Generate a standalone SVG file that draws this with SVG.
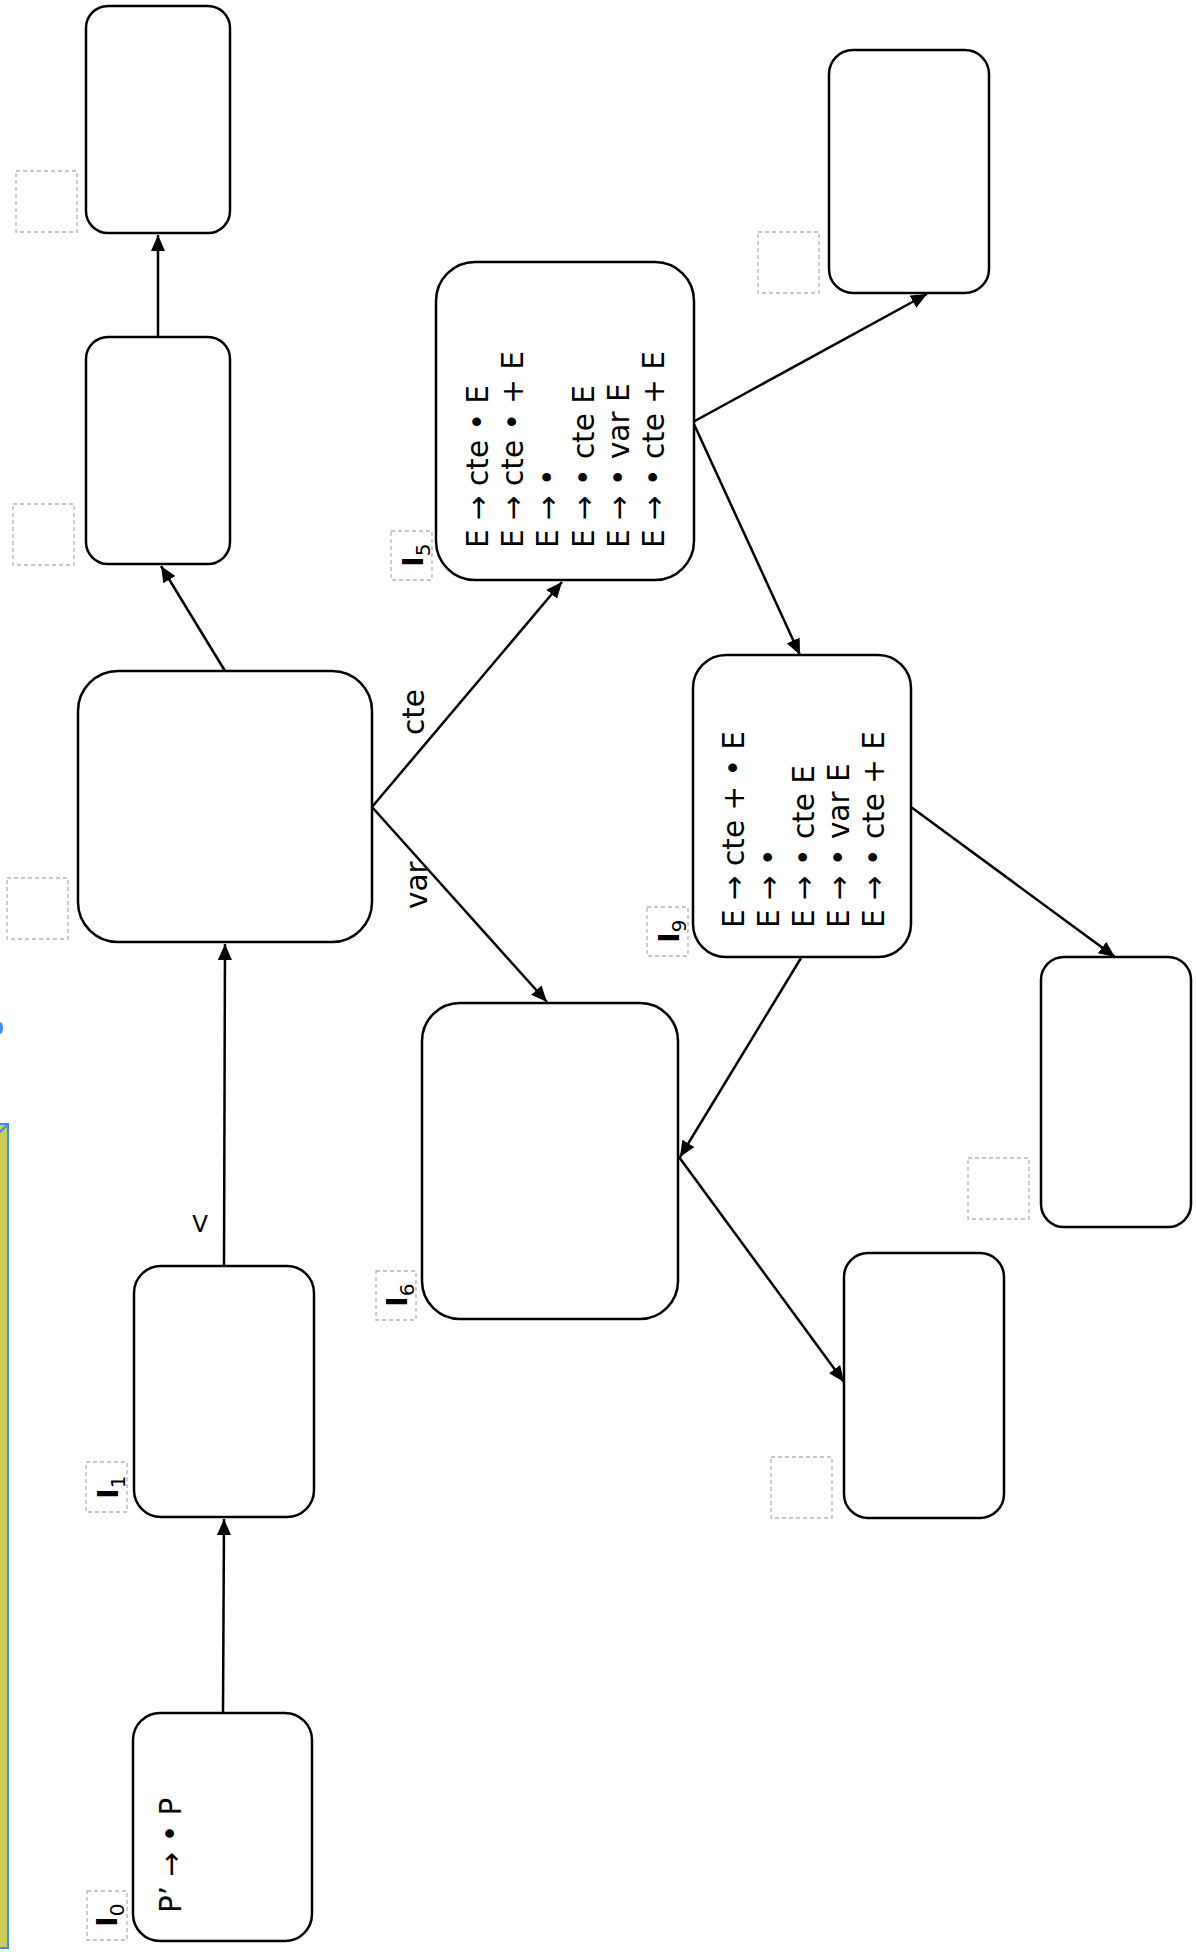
<svg xmlns="http://www.w3.org/2000/svg" width="1196" height="1952" viewBox="0 0 1196 1952">
<style>
.node{fill:#fff;stroke:#000;stroke-width:2.5}
.edge{fill:none;stroke:#000;stroke-width:2.5}
.dash{fill:none;stroke:#b3b3b3;stroke-width:1.3;stroke-dasharray:4 3}
.t{font-family:"DejaVu Sans",sans-serif;font-size:29.5px;fill:#000}
.lbl{font-family:"DejaVu Sans",sans-serif;font-size:29px;font-weight:bold;fill:#000}
.sub{font-size:20px;font-weight:normal}
</style>
<defs>
<marker id="arr" markerWidth="17" markerHeight="14" refX="16" refY="7" orient="auto" markerUnits="userSpaceOnUse">
<path d="M0,0 L16,7 L0,14 z" fill="#000"/>
</marker>
</defs>
<rect width="1196" height="1952" fill="#fff"/>
<g id="sidebar">
<rect x="-20" y="1124" width="28" height="824" fill="#cccc55" stroke="#3d8bfd" stroke-width="2"/>
<path d="M0,1132 L7,1125" stroke="#3d8bfd" stroke-width="2"/>
<ellipse cx="0" cy="1028" rx="3" ry="6" fill="#3d8bfd"/>
</g>
<g id="connectors">
<line class="edge" x1="223" y1="1713" x2="224" y2="1519" marker-end="url(#arr)"/>
<line class="edge" x1="224" y1="1266" x2="225" y2="944" marker-end="url(#arr)"/>
<line class="edge" x1="225" y1="671" x2="161" y2="566" marker-end="url(#arr)"/>
<line class="edge" x1="158" y1="337" x2="158" y2="235" marker-end="url(#arr)"/>
<line class="edge" x1="372" y1="807" x2="562" y2="582" marker-end="url(#arr)"/>
<line class="edge" x1="372" y1="807" x2="547" y2="1002" marker-end="url(#arr)"/>
<line class="edge" x1="693" y1="422" x2="927" y2="294" marker-end="url(#arr)"/>
<line class="edge" x1="693" y1="422" x2="800" y2="655" marker-end="url(#arr)"/>
<line class="edge" x1="911" y1="807" x2="1115" y2="957" marker-end="url(#arr)"/>
<line class="edge" x1="801" y1="958" x2="680" y2="1157" marker-end="url(#arr)"/>
<line class="edge" x1="679" y1="1157" x2="844" y2="1382" marker-end="url(#arr)"/>
<text class="t" transform="translate(424,735) rotate(-90)">cte</text>
<text class="t" transform="translate(427,909) rotate(-90)">var</text>
<text class="t" x="200" y="1232" text-anchor="middle" style="font-size:23px">V</text>
</g>
<g id="nodeA"><rect class="node" x="86" y="6" width="144" height="227" rx="22"/><rect class="dash" x="16" y="171" width="61" height="61"/></g>
<g id="nodeB"><rect class="node" x="86" y="337" width="144" height="227" rx="22"/><rect class="dash" x="13" y="504" width="61" height="61"/></g>
<g id="nodeC"><rect class="node" x="78" y="671" width="294" height="271" rx="40"/><rect class="dash" x="7" y="878" width="61" height="61"/></g>
<g id="nodeD"><rect class="node" x="829" y="50" width="160" height="243" rx="24"/><rect class="dash" x="758" y="232" width="61" height="61"/></g>
<g id="nodeE"><rect class="node" x="1041" y="957" width="150" height="270" rx="23"/><rect class="dash" x="968" y="1158" width="61" height="61"/></g>
<g id="nodeF"><rect class="node" x="844" y="1253" width="160" height="265" rx="24"/><rect class="dash" x="771" y="1457" width="61" height="61"/></g>
<g id="I5">
<rect class="node" x="436" y="262" width="258" height="318" rx="39"/>
<rect class="dash" x="391" y="531" width="41" height="49"/>
<text class="lbl" transform="translate(423,567) rotate(-90)">I<tspan class="sub" dy="6.5">5</tspan></text>
<g class="t">
<text transform="translate(488,548) rotate(-90)">E → cte • E</text>
<text transform="translate(523,548) rotate(-90)">E → cte • + E</text>
<text transform="translate(558,548) rotate(-90)">E → •</text>
<text transform="translate(594,548) rotate(-90)">E → • cte E</text>
<text transform="translate(629,548) rotate(-90)">E → • var E</text>
<text transform="translate(664,548) rotate(-90)">E → • cte + E</text>
</g>
</g>
<g id="I9">
<rect class="node" x="693" y="655" width="218" height="302" rx="33"/>
<rect class="dash" x="647" y="907" width="41" height="49"/>
<text class="lbl" transform="translate(679,943) rotate(-90)">I<tspan class="sub" dy="6.5">9</tspan></text>
<g class="t">
<text transform="translate(744,928) rotate(-90)">E → cte + • E</text>
<text transform="translate(779,928) rotate(-90)">E → •</text>
<text transform="translate(814,928) rotate(-90)">E → • cte E</text>
<text transform="translate(849,928) rotate(-90)">E → • var E</text>
<text transform="translate(884,928) rotate(-90)">E → • cte + E</text>
</g>
</g>
<g id="I6">
<rect class="node" x="422" y="1003" width="256" height="316" rx="38"/>
<rect class="dash" x="376" y="1271" width="40" height="49"/>
<text class="lbl" transform="translate(407,1307) rotate(-90)">I<tspan class="sub" dy="6.5">6</tspan></text>
</g>
<g id="I1">
<rect class="node" x="134" y="1266" width="180" height="251" rx="27"/>
<rect class="dash" x="86" y="1462" width="41" height="50"/>
<text class="lbl" transform="translate(118,1499) rotate(-90)">I<tspan class="sub" dy="6.5">1</tspan></text>
</g>
<g id="I0">
<rect class="node" x="133" y="1713" width="179" height="228" rx="27"/>
<rect class="dash" x="87" y="1891" width="40" height="49"/>
<text class="lbl" transform="translate(117,1927) rotate(-90)">I<tspan class="sub" dy="6.5">0</tspan></text>
<text class="t" transform="translate(181,1913) rotate(-90)">P’ → • P</text>
</g>
</svg>
